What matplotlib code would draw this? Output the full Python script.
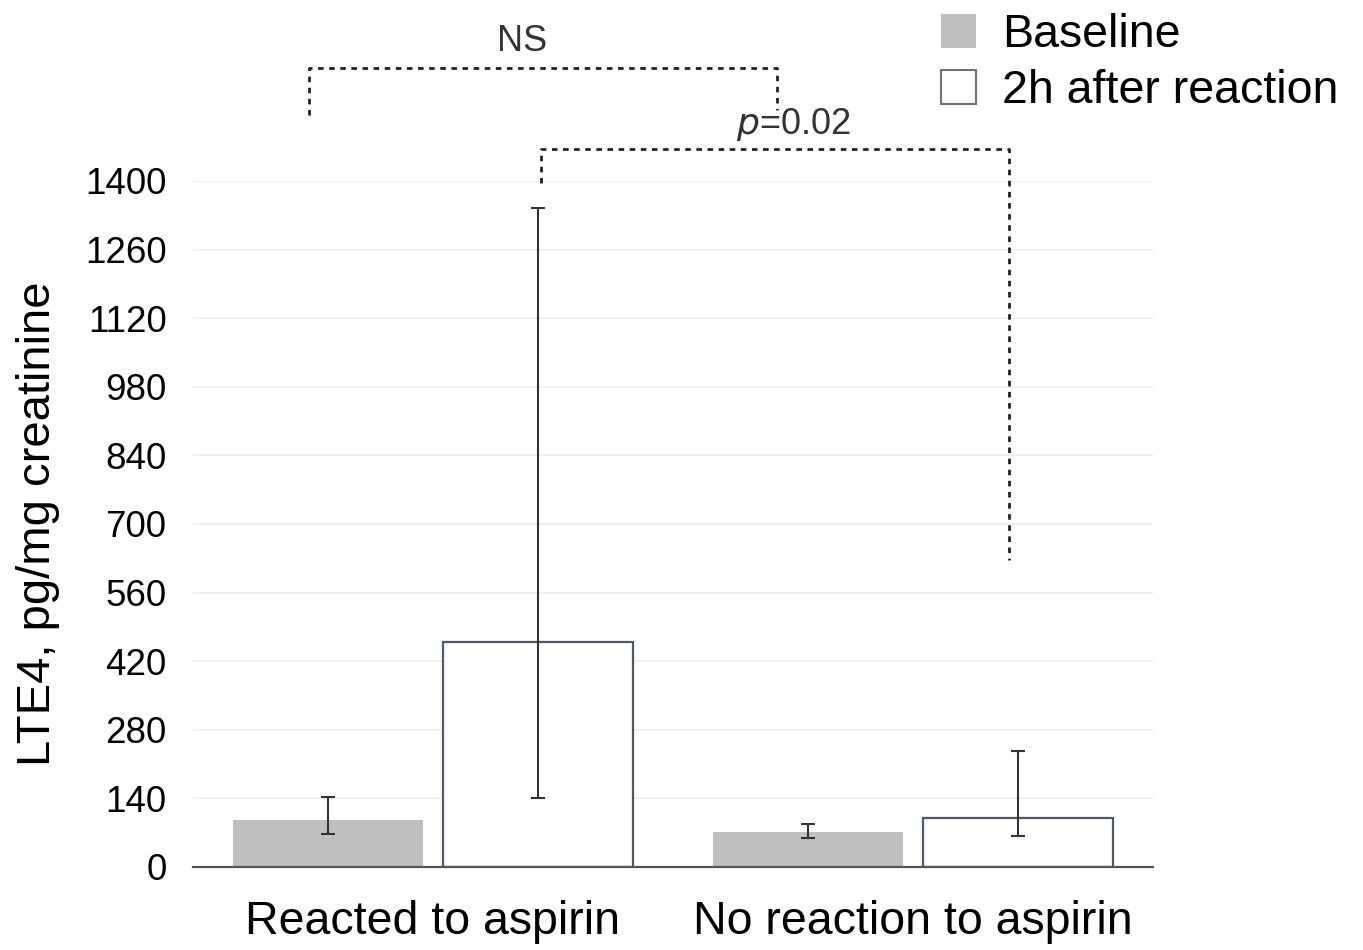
import numpy as np
import matplotlib
matplotlib.use("Agg")
import matplotlib.pyplot as plt
from matplotlib.patches import Patch

plt.rcParams['font.family'] = ['Liberation Sans', 'DejaVu Sans']

groups = ["Reacted to aspirin", "No reaction to aspirin"]
series = ["Baseline", "2h after reaction"]

# mean LTE4 with lower / upper whisker ends
baseline = [96, 71]
baseline_lo = [67, 59]
baseline_hi = [143, 88]
after = [459, 100]
after_lo = [141, 63]
after_hi = [1345, 237]

yticks = [0, 140, 280, 420, 560, 700, 840, 980, 1120, 1260, 1400]

fig = plt.figure(figsize=(13.63, 9.5), dpi=100)
ax = fig.add_axes([0.1416, 0.0874, 0.7043, 0.7221])

x = np.arange(len(groups))
w = 0.396
off = 0.219

ax.bar(x - off, baseline, w, color="#bfbfbf", edgecolor="none", zorder=2)
ax.bar(x + off, after, w, color="white", edgecolor="#4f5a68", linewidth=1.6, zorder=2)

def whiskers(xpos, mean, lo, hi):
    err = [np.array(mean) - np.array(lo), np.array(hi) - np.array(mean)]
    ax.errorbar(xpos, mean, yerr=err, fmt="none", ecolor="#333333",
                elinewidth=1.5, capsize=5, capthick=1.5, zorder=3)

whiskers(x - off, baseline, baseline_lo, baseline_hi)
whiskers(x + off, after, after_lo, after_hi)

ax.set_xlim(-0.5, 1.5)
ax.set_ylim(0, 1400)
ax.set_yticks(yticks)
ax.set_xticks(x)
ax.set_xticklabels(groups, fontsize=33.5)
ax.tick_params(axis="y", labelsize=26.5, length=0, pad=19)
ax.tick_params(axis="x", length=0, pad=24)
ax.grid(axis="y", color="#eeeeee", linewidth=1.2, zorder=0)
ax.set_axisbelow(True)
for s in ["left", "right", "top"]:
    ax.spines[s].set_visible(False)
ax.spines["bottom"].set_color("#555555")
ax.spines["bottom"].set_linewidth(1.6)
ax.set_ylabel("LTE4, pg/mg creatinine", fontsize=34, labelpad=18)

# significance brackets
dots = dict(color="#222222", linewidth=2, linestyle=(0, (2, 2)), clip_on=False)
ax.plot([-0.258, -0.258, 0.717, 0.717], [1535, 1631, 1631, 1545], **dots)
ax.text(0.185, 1684, "NS", fontsize=26, color="#333333", ha="center", va="center")
ax.plot([0.225, 0.225, 1.2, 1.2], [1396, 1465, 1465, 627], **dots)
ax.text(0.75, 1516, "$\\it{p}$=0.02", fontsize=26, color="#333333", ha="center", va="center")

handles = [Patch(facecolor="#bfbfbf", edgecolor="none"),
           Patch(facecolor="white", edgecolor="#6a7280", linewidth=1.5)]
fig.legend(handles, series, loc="upper left", bbox_to_anchor=(0.66, 1.03),
           frameon=False, fontsize=33.5, handlelength=0.75, handleheight=0.75,
           handletextpad=0.55, labelspacing=0.25)

fig.savefig("out.png", dpi=100)
